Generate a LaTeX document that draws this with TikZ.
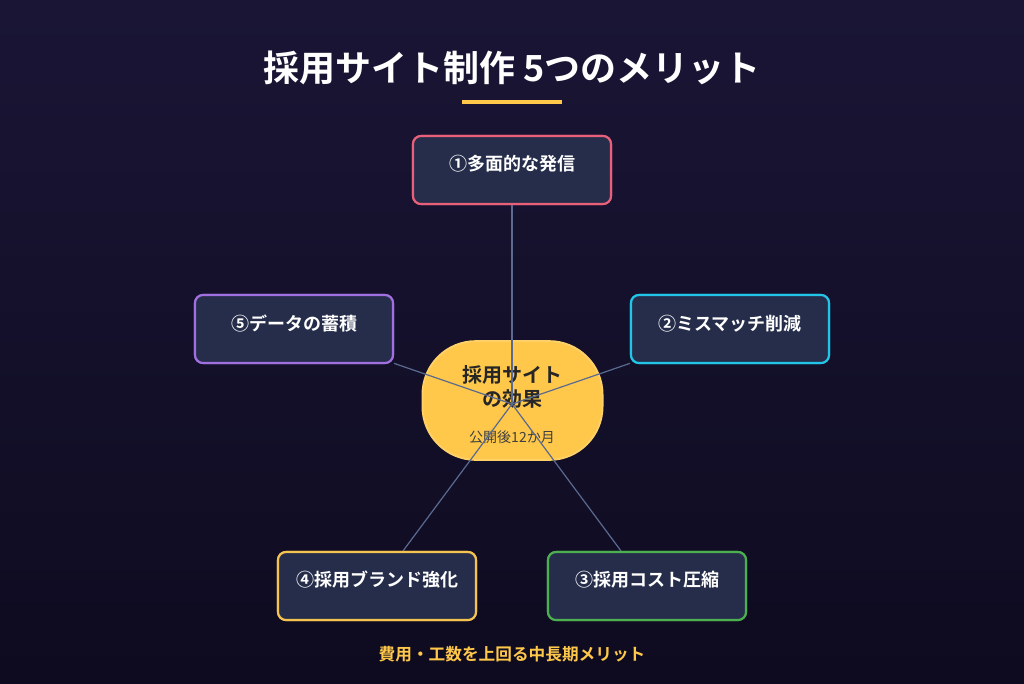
\documentclass[tikz,border=0pt]{standalone}
\usepackage{fontspec}
\setmainfont{Noto Sans CJK JP}
\newfontfamily\jpb{Noto Sans CJK JP Bold}
\begin{document}
\begin{tikzpicture}[x=0.75pt,y=-0.75pt,
  mbox/.style={draw=#1,line width=1.6pt,fill=boxfill,rounded corners=6pt,minimum width=148.5pt,minimum height=51pt,inner sep=0pt},
  mtext/.style={text=white,font=\jpb\fontsize{13.5}{14}\selectfont},
  link/.style={draw=linkc,line width=0.9pt}]
\definecolor{boxfill}{HTML}{252D4A}
\definecolor{linkc}{HTML}{5A6A90}
\definecolor{bgtop}{HTML}{1A1535}
\definecolor{bgbot}{HTML}{0E0B20}
\definecolor{gold}{HTML}{FFC84A}
\definecolor{c1}{HTML}{E8607A}
\definecolor{c2}{HTML}{22C5E8}
\definecolor{c3}{HTML}{4CAF50}
\definecolor{c4}{HTML}{F5C350}
\definecolor{c5}{HTML}{A070E0}
\shade[top color=bgtop,bottom color=bgbot] (0,0) rectangle (1024,683);
\useasboundingbox (0,0) rectangle (1024,683);
\node[text=white,font=\jpb\fontsize{27}{30}\selectfont] (title) at (512,68) {採用サイト制作 5つのメリット};
\fill[gold] (462,99.5) rectangle (562,103.5);
\node[fill=gold,draw=gold!85!white,line width=1.5pt,rounded corners=40pt,minimum width=135pt,minimum height=89pt] (oval) at (512.5,400.5) {};
\node[text=black!85,font=\jpb\fontsize{15}{18}\selectfont,align=center] (ot) at (512,387) {採用サイト\\の効果};
\node[text=black!75,font=\fontsize{10.5}{12}\selectfont] (os) at (512,437) {公開後12か月};
\coordinate (c) at (512,404);
\node[mbox=c1] (b1) at (512,170) {};
\node[mbox=c2] (b2) at (730,329) {};
\node[mbox=c3] (b3) at (647,586) {};
\node[mbox=c4] (b4) at (377,586) {};
\node[mbox=c5] (b5) at (294,329) {};
\foreach \b in {b1,b2,b3,b4,b5} \draw[link] (c) -- (\b);
\node[mbox=c1] at (512,170) {};
\node[mbox=c2] at (730,329) {};
\node[mbox=c3] at (647,586) {};
\node[mbox=c4] at (377,586) {};
\node[mbox=c5] at (294,329) {};
\node[mtext] (t1) at (512,164) {①多面的な発信};
\node[mtext] (t2) at (730,324) {②ミスマッチ削減};
\node[mtext] (t3) at (647,580) {③採用コスト圧縮};
\node[mtext] (t4) at (377,580) {④採用ブランド強化};
\node[mtext] (t5) at (294,324) {⑤データの蓄積};
\node[text=gold,font=\jpb\fontsize{12.5}{14}\selectfont] (foot) at (512,654) {費用・工数を上回る中長期メリット};
\end{tikzpicture}
\end{document}
